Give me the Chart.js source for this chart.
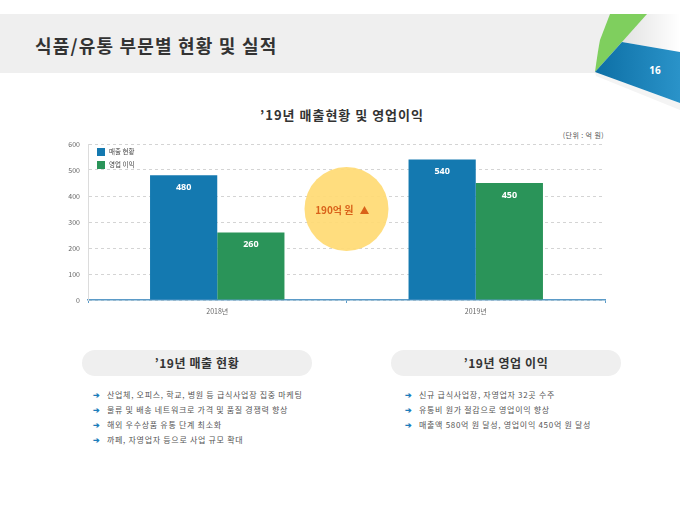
<!DOCTYPE html>
<html>
<head>
<meta charset="utf-8">
<script src="https://cdn.jsdelivr.net/npm/chart.js@4.4.1/dist/chart.umd.min.js"></script>
<style>
  html, body { margin: 0; padding: 0; background: #fff; }
  body { width: 680px; height: 510px; position: relative; overflow: hidden;
         font-family: "Noto Sans CJK KR", "Noto Sans", sans-serif; color: #333; }
  .band { position: absolute; left: 0; top: 14px; width: 610px; height: 59px; background: #efefef; }
  .page-title { position: absolute; left: 35px; top: 32px; font-size: 18px; font-weight: bold; color: #333; letter-spacing: 1.2px; }
  .deco { position: absolute; left: 560px; top: 0; }
  .chart-title { position: absolute; left: 2px; width: 680px; top: 105px; text-align: center; font-size: 13px; font-weight: bold; color: #333; letter-spacing: 1px; }
  .unit { position: absolute; right: 76px; top: 130px; font-size: 7px; color: #555; letter-spacing: 0.4px; }
  .chart-box { position: absolute; left: 40px; top: 128px; width: 570px; height: 197px; }
  .pill { position: absolute; top: 350px; height: 26px; width: 230px; border-radius: 13px; background: #efefef;
          text-align: center; line-height: 26px; font-size: 12px; font-weight: bold; color: #333; letter-spacing: 0.6px; }
  ul.points { position: absolute; margin: 0; padding: 0; list-style: none; font-size: 8px; color: #555; letter-spacing: 0.7px; }
  ul.points li { height: 15px; line-height: 15px; white-space: nowrap; }
  ul.points li span.arr { color: #1c7dbb; font-weight: bold; display: inline-block; width: 14px; letter-spacing: 0; }
</style>
</head>
<body>
<div class="band"></div>
<div class="page-title">식품/유통 부문별 현황 및 실적</div>
<svg class="deco" width="120" height="110" viewBox="560 0 120 110">
  <defs>
    <linearGradient id="blueGrad" x1="0" y1="0" x2="1" y2="0">
      <stop offset="0" stop-color="#0d6fa5"/>
      <stop offset="1" stop-color="#2a93c9"/>
    </linearGradient>
    <linearGradient id="shadeGrad" x1="0" y1="0" x2="1" y2="0">
      <stop offset="0" stop-color="#e2e2e2"/>
      <stop offset="1" stop-color="#ffffff"/>
    </linearGradient>
  </defs>
  <polygon points="640,14 680,14 680,52 622,42" fill="url(#shadeGrad)"/>
  <polygon points="595,72 680,103 680,110 596,76" fill="#f4f4f4"/>
  <path d="M610,14 L647,14 L622,42 L595,72 Q598,50 600,40 Z" fill="#7fcf5e"/>
  <polygon points="622,42 680,52 680,103 595,72" fill="url(#blueGrad)"/>
  <text x="655" y="74" fill="#fff" font-size="10" font-weight="bold" font-family="Noto Sans, sans-serif" text-anchor="middle">16</text>
</svg>

<div class="chart-title">’19년 매출현황 및 영업이익</div>
<div class="unit">(단위 : 억 원)</div>
<div class="chart-box"><canvas id="salesChart"></canvas></div>

<div class="pill" style="left:82px;">’19년 매출 현황</div>
<div class="pill" style="left:391px;">’19년 영업 이익</div>
<ul class="points" id="leftPoints" style="left:93px; top:387px;"></ul>
<ul class="points" id="rightPoints" style="left:405px; top:387px;"></ul>

<script>
// data
var years = ['2018년', '2019년'];
var salesValues = [480, 540];
var profitValues = [260, 450];
var seriesNames = ['매출 현황', '영업 이익'];
var yTicks = [0, 100, 200, 300, 400, 500, 600];
var salesPoints = [
    '산업체, 오피스, 학교, 병원 등 급식사업장 집중 마케팅',
    '물류 및 배송 네트워크로 가격 및 품질 경쟁력 향상',
    '해외 우수상품 유통 단계 최소화',
    '까페, 자영업자 등으로 사업 규모 확대'
];
var profitPoints = [
    '신규 급식사업장, 자영업자 32곳 수주',
    '유통비 원가 절감으로 영업이익 향상',
    '매출액 580억 원 달성, 영업이익 450억 원 달성'
];

var blue = '#1479b0';
var green = '#2a9459';
var korFont = '"Noto Sans CJK KR", "Noto Sans", sans-serif';

function fillPoints(id, items) {
    var list = document.getElementById(id);
    items.forEach(function (text) {
        var li = document.createElement('li');
        li.innerHTML = '<span class="arr">➔</span>';
        li.appendChild(document.createTextNode(text));
        list.appendChild(li);
    });
}
fillPoints('leftPoints', salesPoints);
fillPoints('rightPoints', profitPoints);

// value labels inside bars, legend, and the growth bubble
var decorPlugin = {
    id: 'decor',
    afterDatasetsDraw: function (chart) {
        var ctx = chart.ctx;
        var area = chart.chartArea;
        var xs = chart.scales.x;
        var ys = chart.scales.y;

        // bar labels
        ctx.save();
        ctx.fillStyle = '#fff';
        ctx.font = 'bold 9px "Noto Sans", sans-serif';
        ctx.textAlign = 'center';
        ctx.textBaseline = 'middle';
        chart.data.datasets.forEach(function (ds, di) {
            chart.getDatasetMeta(di).data.forEach(function (bar, i) {
                ctx.fillText(ds.data[i], bar.x, bar.y + 12);
            });
        });
        ctx.restore();

        // legend
        ctx.save();
        ctx.font = '6.5px ' + korFont;
        ctx.textBaseline = 'middle';
        chart.data.datasets.forEach(function (ds, di) {
            var lx = area.left + 9;
            var ly = area.top + 4 + di * 13;
            ctx.fillStyle = ds.backgroundColor;
            ctx.fillRect(lx, ly, 8, 8);
            ctx.fillStyle = '#444';
            ctx.fillText(ds.label, lx + 12, ly + 4);
        });
        ctx.restore();

        // growth bubble between the two years
        var cx = (xs.getPixelForValue(0) + xs.getPixelForValue(1)) / 2;
        var cy = ys.getPixelForValue(350);
        var growth = profitValues[1] - profitValues[0];
        ctx.save();
        ctx.beginPath();
        ctx.arc(cx, cy, 42, 0, Math.PI * 2);
        ctx.fillStyle = 'rgba(255, 218, 115, 0.92)';
        ctx.fill();
        ctx.fillStyle = '#d9621a';
        ctx.font = 'bold 10px ' + korFont;
        ctx.textAlign = 'right';
        ctx.textBaseline = 'middle';
        ctx.fillText(growth + '억 원', cx + 7, cy + 1);
        var tx = cx + 18, ty = cy + 1;
        ctx.beginPath();
        ctx.moveTo(tx - 4.5, ty + 4);
        ctx.lineTo(tx + 4.5, ty + 4);
        ctx.lineTo(tx, ty - 4);
        ctx.closePath();
        ctx.fill();
        ctx.restore();
    }
};

var ctx = document.getElementById('salesChart').getContext('2d');
var chart = new Chart(ctx, {
    type: 'bar',
    data: {
        labels: years,
        datasets: [{
            label: seriesNames[0],
            data: salesValues,
            backgroundColor: blue,
            barPercentage: 1,
            categoryPercentage: 0.52
        }, {
            label: seriesNames[1],
            data: profitValues,
            backgroundColor: green,
            barPercentage: 1,
            categoryPercentage: 0.52
        }]
    },
    options: {
        responsive: true,
        maintainAspectRatio: false,
        animation: false,
        layout: { padding: { top: 16, right: 5, left: 0, bottom: 0 } },
        plugins: {
            legend: { display: false },
            tooltip: { enabled: false }
        },
        scales: {
            x: {
                offset: true,
                afterFit: function (scale) { scale.height = 25; },
                grid: {
                    offset: true,
                    drawOnChartArea: false,
                    drawTicks: true,
                    tickLength: 3,
                    color: '#5b9bc8'
                },
                border: { color: '#5b9bc8', width: 1.5 },
                ticks: {
                    color: '#666',
                    font: { size: 7, family: korFont },
                    padding: 4
                }
            },
            y: {
                min: 0,
                max: 600,
                afterFit: function (scale) { scale.width = 48; },
                afterBuildTicks: function (scale) {
                    scale.ticks = yTicks.map(function (v) { return { value: v }; });
                },
                grid: {
                    color: '#d4d4d4',
                    drawTicks: false
                },
                border: { color: '#dcdcdc', dash: [3, 3] },
                ticks: {
                    color: '#666',
                    font: { size: 7, family: korFont },
                    padding: 8
                }
            }
        }
    },
    plugins: [decorPlugin]
});
</script>
</body>
</html>
